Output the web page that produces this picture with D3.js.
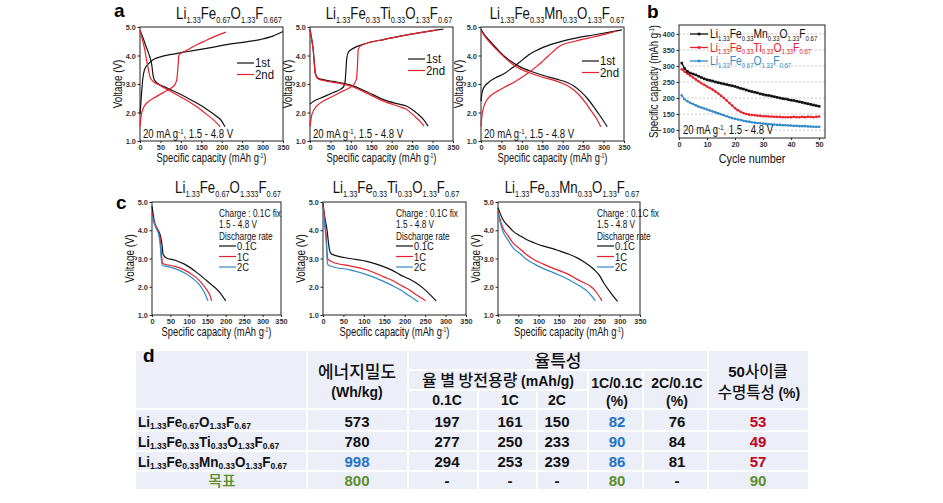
<!DOCTYPE html>
<html><head><meta charset="utf-8">
<script src="https://cdn.jsdelivr.net/npm/d3@7"></script>
<style>body{margin:0;background:#fff}</style>
</head><body><script>
// ---------------- DATA ----------------
// Panel a : galvanostatic curves [capacity mAh/g, voltage V]
const a1Charge1 = [[0,1.95],[2,2.3],[4,2.7],[7,3.2],[11,3.5],[20,3.7],[33,3.86],[50,3.95],[73,4.03],[100,4.1],[130,4.17],[170,4.27],[212,4.38],[255,4.47],[294,4.56],[325,4.68],[350,4.84]];
const a1Discharge1 = [[0,4.88],[4,4.75],[8,4.6],[14,4.35],[20,4.12],[25,3.9],[29,3.65],[32,3.3],[35,3.15],[45,3.0],[60,2.9],[90,2.7],[115,2.52],[139,2.33],[165,2.1],[188,1.86],[200,1.7],[208,1.5]];
const a1Charge2 = [[0,1.5],[3,1.9],[8,2.15],[18,2.35],[33,2.5],[55,2.68],[73,2.83],[85,2.97],[90,3.15],[93,3.6],[95,4.0],[100,4.08],[110,4.15],[139,4.38],[160,4.52],[185,4.68],[210,4.82]];
const a1Discharge2 = [[0,4.9],[5,4.6],[11,4.25],[16,3.85],[20,3.55],[24,3.27],[30,3.12],[45,2.98],[65,2.82],[90,2.62],[115,2.42],[139,2.2],[160,1.97],[180,1.74],[196,1.5]];

const a2Charge1 = [[0,2.3],[10,2.4],[25,2.5],[57,2.7],[75,2.82],[82,2.9],[86,3.1],[88,3.5],[90,3.9],[94,4.12],[106,4.25],[139,4.43],[180,4.56],[221,4.68],[270,4.8],[300,4.87],[327,4.93]];
const a2Discharge1 = [[0,4.92],[4,4.6],[8,4.2],[11,3.7],[13,3.38],[20,3.2],[40,3.13],[57,3.09],[98,2.97],[139,2.73],[180,2.45],[215,2.3],[237,2.22],[262,1.97],[278,1.75],[289,1.52]];
const a2Charge2 = [[0,1.5],[5,1.95],[16,2.22],[35,2.42],[57,2.58],[80,2.75],[98,2.88],[108,3.0],[114,3.2],[116,3.6],[118,4.2],[122,4.32],[139,4.43],[180,4.56],[221,4.68],[270,4.8],[313,4.9]];
const a2Discharge2 = [[0,4.9],[4,4.55],[8,4.15],[11,3.6],[13,3.35],[20,3.18],[40,3.1],[57,3.06],[98,2.93],[139,2.68],[180,2.4],[215,2.22],[235,2.12],[255,1.88],[270,1.68],[279,1.52]];

const a3Charge1 = [[0,2.4],[2,2.65],[6,2.85],[14,3.0],[22,3.1],[40,3.25],[55,3.35],[75,3.55],[95,3.77],[110,3.95],[128,4.12],[160,4.33],[193,4.48],[235,4.62],[275,4.72],[315,4.82],[345,4.9]];
const a3Discharge1 = [[0,4.92],[10,4.7],[22,4.5],[40,4.22],[55,4.0],[75,3.78],[96,3.6],[125,3.43],[153,3.3],[185,3.17],[211,3.05],[228,2.92],[243,2.75],[260,2.5],[276,2.2],[293,1.85],[309,1.5]];
const a3Charge2 = [[0,1.5],[2,1.85],[6,2.15],[12,2.38],[22,2.57],[40,2.75],[55,2.87],[85,3.1],[112,3.35],[135,3.6],[153,3.83],[175,4.12],[193,4.33],[230,4.5],[275,4.65],[305,4.75],[332,4.86]];
const a3Discharge2 = [[0,4.88],[10,4.66],[22,4.45],[40,4.18],[55,3.97],[75,3.72],[96,3.53],[125,3.36],[153,3.23],[185,3.1],[211,2.95],[228,2.78],[243,2.57],[258,2.3],[270,2.05],[283,1.78],[293,1.5]];

// Panel b : cycling, capacity per cycle (cycles 1..50)
const cycMn = [309,292,283,278,275,272,268,264,260,257,255,253,250,248,246,244,242,240,238,236,233,230,228,225,222,220,218,216,213,211,209,208,206,204,202,200,198,197,195,193,192,190,188,186,184,182,180,178,176,174];
const cycTi = [290,282,276,270,264,258,252,246,241,236,231,226,220,214,207,200,192,184,176,168,162,157,153,150,148,147,146,145,144,143,143,142,142,141,141,141,140,140,140,140,141,140,140,141,140,141,141,140,141,142];
const cycFe = [208,196,190,185,181,177,173,170,167,164,161,158,155,152,149,146,143,140,137,135,133,131,129,127,126,124,123,122,121,120,119,118,118,117,116,116,115,115,114,114,113,113,112,112,112,111,111,110,110,110];

// Panel c : discharge at different rates
const c1r01 = [[0,4.85],[4,4.5],[8,4.2],[16,4.02],[23,3.8],[28,3.4],[30,3.15],[38,3.03],[63,2.94],[88,2.8],[122,2.5],[156,2.13],[182,1.83],[200,1.5]];
const c1r1 = [[0,4.6],[5,4.35],[12,4.12],[18,3.92],[23,3.6],[26,3.1],[29,2.82],[40,2.78],[62,2.72],[90,2.58],[110,2.42],[130,2.2],[148,1.9],[157,1.7],[162,1.5]];
const c1r2 = [[0,4.5],[5,4.28],[12,4.05],[18,3.85],[22,3.5],[25,3.0],[28,2.75],[40,2.72],[62,2.64],[90,2.48],[110,2.3],[128,2.08],[142,1.8],[152,1.5]];
const c2r01 = [[0,4.95],[5,4.4],[10,4.0],[13,3.6],[16,3.3],[20,3.17],[26,3.13],[66,3.0],[107,2.9],[147,2.72],[170,2.58],[188,2.43],[210,2.28],[228,2.13],[245,1.95],[260,1.75],[277,1.5]];
const c2r1 = [[0,4.9],[4,4.4],[8,3.78],[10,3.2],[12,2.98],[26,2.86],[66,2.74],[107,2.6],[147,2.36],[170,2.22],[188,2.07],[210,1.9],[228,1.72],[243,1.58],[251,1.5]];
const c2r2 = [[0,4.8],[4,4.2],[8,3.54],[10,3.0],[12,2.78],[26,2.7],[66,2.6],[107,2.43],[147,2.2],[170,2.04],[188,1.9],[212,1.67],[225,1.55],[233,1.47]];
const c3r01 = [[0,4.8],[12,4.38],[25,4.15],[37,3.97],[55,3.8],[70,3.67],[90,3.55],[112,3.44],[135,3.35],[153,3.26],[175,3.15],[194,3.03],[215,2.85],[236,2.62],[250,2.4],[260,2.15],[277,1.8],[290,1.56],[295,1.48]];
const c3r1 = [[0,4.67],[12,4.08],[25,3.8],[37,3.55],[55,3.33],[70,3.14],[90,2.95],[112,2.8],[135,2.66],[153,2.56],[175,2.43],[194,2.27],[212,2.14],[227,2.03],[237,1.9],[244,1.77],[252,1.6],[256,1.5]];
const c3r2 = [[0,4.6],[12,3.96],[25,3.65],[37,3.38],[55,3.17],[70,2.97],[90,2.8],[112,2.64],[135,2.51],[153,2.4],[175,2.25],[194,2.09],[210,1.95],[223,1.8],[233,1.63],[240,1.5]];

// Ticks
const capTicks = [0,50,100,150,200,250,300,350];
const voltTicks = [1,2,3,4,5];
const cycTicks = [0,10,20,30,40,50];
const bCapTicks = [100,150,200,250,300,350,400];

// Formulas [element, subscript]
const fFeA = [["Li","1.33"],["Fe","0.67"],["O","1.33"],["F","0.667"]];
const fFeC = [["Li","1.33"],["Fe","0.67"],["O","1.333"],["F","0.67"]];
const fFe = [["Li","1.33"],["Fe","0.67"],["O","1.33"],["F","0.67"]];
const fTi = [["Li","1.33"],["Fe","0.33"],["Ti","0.33"],["O","1.33"],["F","0.67"]];
const fMn = [["Li","1.33"],["Fe","0.33"],["Mn","0.33"],["O","1.33"],["F","0.67"]];

// Table d
const tblEnergy = [573, 780, 998];
const tbl01C = [197, 277, 294];
const tbl1C = [161, 250, 253];
const tbl2C = [150, 233, 239];
const tblR1 = [82, 90, 86];
const tblR2 = [76, 84, 81];
const tblCyc = [53, 49, 57];
const tblTarget = ["800", "-", "-", "-", "80", "-", "90"];

// ---------------- DRAW ----------------
const W = 943, H = 503;
const SANS = "'Liberation Sans',Arial,sans-serif";
const KR = "'Noto Sans CJK KR','Liberation Sans',sans-serif";
const RED = "#e8202a", BLUE = "#2f8ac6", BLK = "#111";

const svg = d3.select("body").append("svg").attr("width", W).attr("height", H)
  .style("background", "#fff");

// condensed text: a group translated to (x,y), optionally rotated, squeezed horizontally
function ctext(parent, x, y, o) {
  const g = parent.append("g").attr("transform", `translate(${x},${y})${o.rot ? ` rotate(${o.rot})` : ""} scale(${o.sx || 1},1)`);
  return g.append("text").attr("x", 0).attr("y", 0)
    .attr("text-anchor", o.anchor || "start")
    .attr("font-family", o.family || SANS)
    .attr("font-weight", o.weight || "normal")
    .attr("font-size", o.size || 12)
    .attr("fill", o.fill || "#111");
}

function formula(parent, x, y, parts, o) {
  const t = ctext(parent, x, y, o);
  let down = false;
  parts.forEach(([m, s]) => {
    t.append("tspan").text(m).attr("font-size", o.size).attr("dy", down ? -o.subDy : 0);
    t.append("tspan").text(s).attr("font-size", o.subSize).attr("dy", o.subDy);
    down = true;
  });
  return t;
}

function capLabel(t) {
  t.append("tspan").text("Specific capacity (mAh g");
  t.append("tspan").text("-1").attr("font-size", 6.5).attr("dy", -4);
  t.append("tspan").text(")").attr("dy", 4);
}

function xyPlot(cfg) {
  const g = svg.append("g");
  const x = d3.scaleLinear().domain(cfg.xd).range([cfg.l, cfg.r]);
  const y = d3.scaleLinear().domain(cfg.yd).range([cfg.b, cfg.t]);
  if (cfg.grid) {
    g.append("g").selectAll("line").data(cfg.grid).join("line")
      .attr("x1", cfg.l).attr("x2", cfg.r).attr("y1", d => y(d)).attr("y2", d => y(d))
      .attr("stroke", "#c8c8c8").attr("stroke-width", 1).attr("stroke-dasharray", "2,2");
  }
  const xa = g.append("g").attr("transform", `translate(0,${cfg.b})`)
    .call(d3.axisBottom(x).tickValues(cfg.xt).tickSize(2).tickPadding(1).tickSizeOuter(0).tickFormat(cfg.xf || d3.format("d")));
  const ya = g.append("g").attr("transform", `translate(${cfg.l},0)`)
    .call(d3.axisLeft(y).tickValues(cfg.yt).tickSize(2.5).tickPadding(2).tickSizeOuter(0).tickFormat(cfg.yf || d3.format(".1f")));
  [xa, ya].forEach(a => {
    a.select(".domain").remove();
    a.selectAll("line").attr("stroke", "#222");
    a.selectAll("text").attr("font-family", SANS).attr("font-size", 8).attr("font-weight", "bold").attr("fill", "#333")
      .attr("transform", "scale(0.92,1)");
  });
  xa.selectAll("text").attr("dy", "0.75em");
  g.append("rect").attr("x", cfg.l).attr("y", cfg.t).attr("width", cfg.r - cfg.l).attr("height", cfg.b - cfg.t)
    .attr("fill", "none").attr("stroke", "#222").attr("stroke-width", 1);
  const line = d3.line().x(d => x(d[0])).y(d => y(d[1])).curve(d3.curveMonotoneX);
  (cfg.series || []).forEach(s => {
    g.append("path").attr("d", line(s.data)).attr("fill", "none").attr("stroke", s.color).attr("stroke-width", s.w || 1.2);
  });
  // axis titles
  const xt = ctext(g, (cfg.l + cfg.r) / 2, cfg.b + (cfg.xtOff || 21), { anchor: "middle", size: 12, sx: cfg.xsx || 0.78 });
  if (cfg.xlab === "cap") capLabel(xt); else xt.text(cfg.xlab);
  const yt = ctext(g, cfg.l - (cfg.ytOff || 18), (cfg.t + cfg.b) / 2, { anchor: "middle", size: 12, rot: -90, sx: cfg.ysx || 0.82 });
  if (cfg.ylab === "cap") capLabel(yt); else yt.text(cfg.ylab);
  return { g, x, y };
}

function annot(g, x, y) {
  const t = ctext(g, x, y, { size: 12, sx: 0.8 });
  t.append("tspan").text("20 mA g");
  t.append("tspan").text("-1").attr("font-size", 7.5).attr("dy", -4);
  t.append("tspan").text(", 1.5 - 4.8 V").attr("dy", 4);
}

function legendRows(g, x, y, step, rows, textSize, sx) {
  rows.forEach((r, i) => {
    const yy = y + i * step;
    g.append("line").attr("x1", x).attr("x2", x + 17).attr("y1", yy).attr("y2", yy).attr("stroke", r.color).attr("stroke-width", 1.2);
    ctext(g, x + 18, yy + 4, { size: textSize, sx: sx || 1 }).text(r.label);
  });
}

function panelLetter(x, y, s) {
  svg.append("text").attr("x", x).attr("y", y).attr("font-family", SANS).attr("font-weight", "bold").attr("font-size", 19).text(s);
}

// ---- Panel a ----
const aCfg = [
  { l: 140, r: 283, title: fFeA, tx: 229, series: [[a1Charge1, BLK], [a1Discharge1, BLK], [a1Charge2, RED], [a1Discharge2, RED]], leg: [237, 63] },
  { l: 310, r: 453, title: fTi, tx: 389, series: [[a2Charge1, BLK], [a2Discharge1, BLK], [a2Charge2, RED], [a2Discharge2, RED]], leg: [408, 59] },
  { l: 481, r: 624, title: fMn, tx: 557, series: [[a3Charge1, BLK], [a3Discharge1, BLK], [a3Charge2, RED], [a3Discharge2, RED]], leg: [582, 61] }
];
aCfg.forEach(c => {
  const p = xyPlot({ l: c.l, r: c.r, t: 27, b: 141, xd: [0, 350], yd: [1, 5], xt: capTicks, yt: voltTicks,
    series: c.series.map(s => ({ data: s[0], color: s[1] })), xlab: "cap", ylab: "Voltage (V)" });
  formula(svg, c.tx, 19, c.title, { anchor: "middle", size: 17, subSize: 9.5, subDy: 4, sx: 0.78 });
  legendRows(p.g, c.leg[0], c.leg[1], 11.5, [{ color: BLK, label: "1st" }, { color: RED, label: "2nd" }], 12, 0.95);
  annot(p.g, c.l + 3, 138);
});
panelLetter(114, 17, "a");

// ---- Panel b ----
{
  const p = xyPlot({ l: 679, r: 825, t: 25, b: 138, xd: [0, 52.1], yd: [75, 428], xt: cycTicks, yt: bCapTicks,
    yf: d3.format("d"), grid: [100, 150, 200, 250, 300, 350, 400], xlab: "Cycle number", xsx: 0.9, xtOff: 25,
    ylab: "cap", ytOff: 21, ysx: 0.8 });
  const sets = [[cycFe, BLUE, "tri"], [cycTi, RED, "circ"], [cycMn, BLK, "sq"]];
  const line = d3.line().x((d, i) => p.x(i + 1)).y(d => p.y(d));
  sets.forEach(([d, col, m]) => {
    p.g.append("path").attr("d", line(d)).attr("fill", "none").attr("stroke", col).attr("stroke-width", 1.3);
    const mk = p.g.append("g").selectAll("rect").data(d).join("rect")
      .attr("x", (v, i) => p.x(i + 1) - 1.3).attr("y", v => p.y(v) - 1.3).attr("width", 2.6).attr("height", 2.6).attr("fill", col);
    if (m !== "sq") mk.attr("rx", 1.3);
  });
  const leg = [[fMn, BLK], [fTi, RED], [fFe, BLUE]];
  leg.forEach(([f, col], i) => {
    const yy = 34 + i * 13.5;
    p.g.append("line").attr("x1", 690).attr("x2", 708).attr("y1", yy).attr("y2", yy).attr("stroke", col).attr("stroke-width", 1.3);
    p.g.append("rect").attr("x", 697.7).attr("y", yy - 1.3).attr("width", 2.6).attr("height", 2.6).attr("fill", col);
    formula(p.g, 710, yy + 4, f, { size: 12, subSize: 7, subDy: 2.5, fill: col, sx: 0.86 });
  });
  annot(p.g, 683, 134);
  panelLetter(647, 18, "b");
}

// ---- Panel c ----
const cCfg = [
  { l: 152, r: 281, title: fFeC, tx: 228, series: [[c1r01, BLK], [c1r1, RED], [c1r2, BLUE]], lx: 219 },
  { l: 323, r: 466, title: fTi, tx: 396, series: [[c2r01, BLK], [c2r1, RED], [c2r2, BLUE]], lx: 396 },
  { l: 498, r: 640, title: fMn, tx: 572, series: [[c3r01, BLK], [c3r1, RED], [c3r2, BLUE]], lx: 597 }
];
cCfg.forEach(c => {
  const p = xyPlot({ l: c.l, r: c.r, t: 202, b: 315, xd: [0, 350], yd: [1, 5], xt: capTicks, yt: voltTicks,
    series: c.series.map(s => ({ data: s[0], color: s[1] })), xlab: "cap", ylab: "Voltage (V)" });
  formula(svg, c.tx, 193, c.title, { anchor: "middle", size: 17, subSize: 9.5, subDy: 4, sx: 0.78 });
  const tt = ["Charge : 0.1C fix", "1.5 - 4.8 V", "Discharge rate"];
  [213, 224, 236].forEach((yy, i) => ctext(p.g, c.lx, yy + 4, { size: 11, sx: 0.75 }).text(tt[i]));
  legendRows(p.g, c.lx, 246, 10.5, [{ color: BLK, label: "0.1C" }, { color: RED, label: "1C" }, { color: BLUE, label: "2C" }], 11, 0.85);
});
panelLetter(116, 209, "c");

// ---- Table d ----
{
  const g = svg.append("g");
  const L = 136, R = 808, T = 351, B = 489;
  g.append("rect").attr("x", L).attr("y", T).attr("width", R - L).attr("height", B - T).attr("fill", "#eceef8");
  const wl = (x1, y1, x2, y2) => g.append("line").attr("x1", x1).attr("y1", y1).attr("x2", x2).attr("y2", y2)
    .attr("stroke", "#fff").attr("stroke-width", 2);
  [409, 431, 451, 471].forEach(yy => wl(L, yy, R, yy));
  wl(408, 370, 708, 370);
  wl(408, 390, 588, 390);
  [307, 408, 708].forEach(xx => wl(xx, T, xx, B));
  [588, 643].forEach(xx => wl(xx, 370, xx, B));
  [478, 537].forEach(xx => wl(xx, 390, xx, B));

  const txt = (x, y, s, o = {}) => g.append("text").attr("x", x).attr("y", y).attr("text-anchor", o.anchor || "middle")
    .attr("font-family", o.family || SANS).attr("font-weight", o.weight || "bold").attr("font-size", o.size || 15)
    .attr("fill", o.fill || "#111").text(s);
  // headers
  txt(357, 378, "에너지밀도", { family: KR, weight: 500, size: 17 });
  txt(357, 397, "(Wh/kg)", { size: 14 });
  txt(558, 367, "율특성", { family: KR, weight: 500, size: 17 });
  const h2 = g.append("text").attr("x", 498).attr("y", 386).attr("text-anchor", "middle").attr("fill", "#111");
  h2.append("tspan").text("율 별 방전용량 ").attr("font-family", KR).attr("font-weight", 500).attr("font-size", 16);
  h2.append("tspan").text("(mAh/g)").attr("font-family", SANS).attr("font-weight", "bold").attr("font-size", 14);
  txt(447, 405, "0.1C", { size: 14 });
  txt(510, 405, "1C", { size: 14 });
  txt(557, 405, "2C", { size: 14 });
  txt(617, 388, "1C/0.1C", { size: 14 });
  txt(617, 406, "(%)", { size: 14 });
  txt(677, 388, "2C/0.1C", { size: 14 });
  txt(677, 406, "(%)", { size: 14 });
  const h3 = g.append("text").attr("x", 758).attr("y", 377).attr("text-anchor", "middle").attr("fill", "#111");
  h3.append("tspan").text("50").attr("font-family", SANS).attr("font-weight", "bold").attr("font-size", 15);
  h3.append("tspan").text("사이클").attr("font-family", KR).attr("font-weight", 500).attr("font-size", 15.5);
  const h4 = g.append("text").attr("x", 759).attr("y", 398).attr("text-anchor", "middle").attr("fill", "#111");
  h4.append("tspan").text("수명특성 ").attr("font-family", KR).attr("font-weight", 500).attr("font-size", 15.5);
  h4.append("tspan").text("(%)").attr("font-family", SANS).attr("font-weight", "bold").attr("font-size", 14);

  const names = [fFe, fTi, fMn];
  const rowY = [427, 447, 467];
  const colX = [357, 447, 510, 557, 617, 677, 758];
  const BLUE_T = "#1f74c6", RED_T = "#c4001a", GRN = "#5b8f2c";
  names.forEach((f, i) => {
    formula(g, 138, rowY[i], f, { weight: "bold", size: 15, subSize: 9.5, subDy: 1.5, fill: "#111", sx: 0.9 });
    const vals = [tblEnergy[i], tbl01C[i], tbl1C[i], tbl2C[i], tblR1[i], tblR2[i], tblCyc[i]];
    const cols = ["#111", "#111", "#111", "#111", BLUE_T, "#111", RED_T];
    if (i === 2) cols[0] = BLUE_T;
    vals.forEach((v, j) => txt(colX[j], rowY[i], v, { fill: cols[j] }));
  });
  txt(222, 486, "목표", { family: KR, weight: 500, size: 15, fill: GRN });
  tblTarget.forEach((v, j) => txt(colX[j], 486, v, { fill: v === "-" ? "#111" : GRN }));
  panelLetter(143, 362, "d");
}
</script></body></html>
